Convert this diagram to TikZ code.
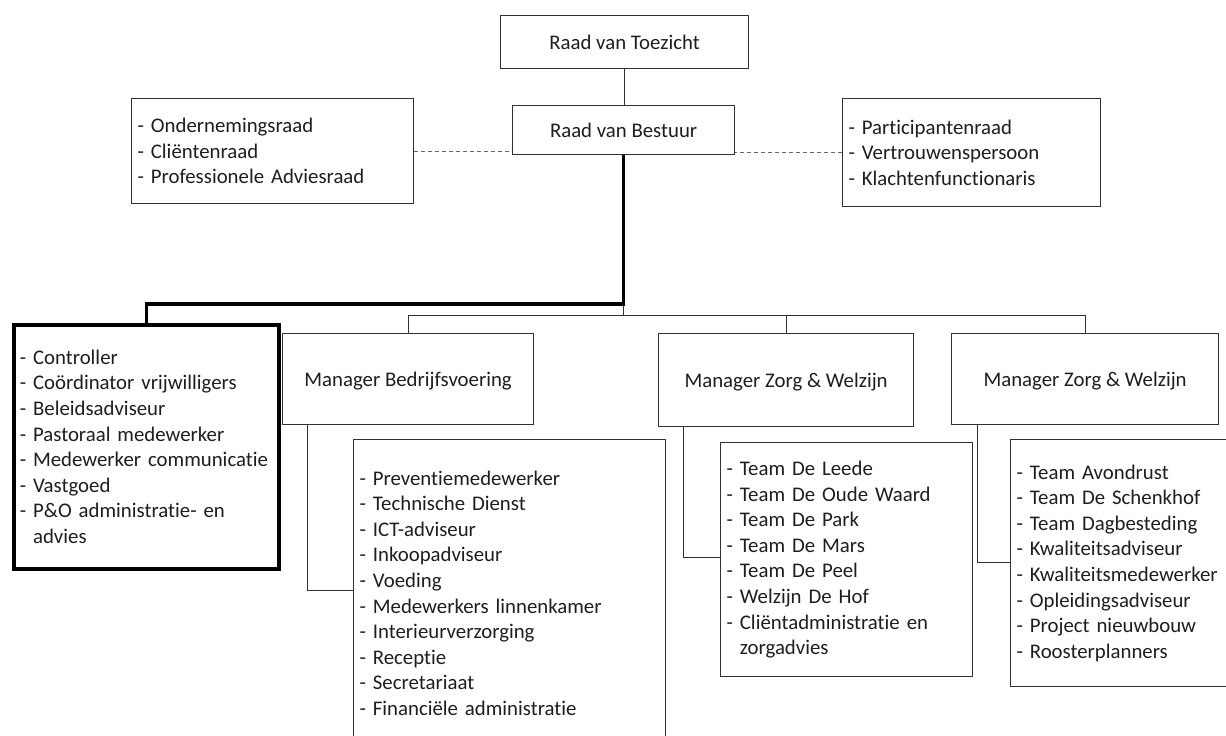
\documentclass[tikz,border=0pt]{standalone}
\usepackage{fontspec}
\setmainfont{Carlito}[Ligatures=NoCommon]
\newcommand\bodyfont{\fontsize{20.8pt}{25.6pt}\selectfont}
\definecolor{ink}{HTML}{1E1E1E}
\definecolor{edge}{HTML}{333333}
\begin{document}
\begin{tikzpicture}[x=1pt,y=-1pt,
  box/.style={draw=edge, line width=1.2pt, rectangle, inner ysep=0pt, inner xsep=6pt,
    anchor=north west, font=\bodyfont, text=ink},
  listbox/.style={box, align=left},
  mgrbox/.style={box, align=center, text height=17pt, text depth=2pt},
  conn/.style={draw=edge, line width=1pt},
  heavy/.style={draw=black, line width=3.6pt},
  dashline/.style={draw=black!60, line width=1pt, dash pattern=on 4pt off 3pt}]
\path[use as bounding box, clip] (0,0) rectangle (1226,736);
\fill[white] (0,0) rectangle (1226,736);

\node[mgrbox, minimum width=248pt, minimum height=53pt] (toez) at (500,15) {Raad van Toezicht};
\node[mgrbox, minimum width=222pt, minimum height=49pt] (bestuur) at (512,105) {Raad van Bestuur};

\node[listbox, text width=270pt, minimum height=105pt] (ladv) at (131,98)
  {- Ondernemingsraad\\- Cliëntenraad\\- Professionele Adviesraad};
\node[listbox, text width=246pt, minimum height=108pt] (radv) at (842,98)
  {- Participantenraad\\- Vertrouwenspersoon\\- Klachtenfunctionaris};

\node[listbox, line width=3.6pt, draw=black, text width=253pt, minimum height=244pt] (staff) at (12,323)
  {- Controller\\- Coördinator vrijwilligers\\- Beleidsadviseur\\- Pastoraal medewerker\\- Medewerker communicatie\\- Vastgoed\\- P\&O administratie- en\\\phantom{- }advies};

\node[mgrbox, minimum width=251pt, minimum height=91pt] (mgr1) at (282,333) {Manager Bedrijfsvoering};
\node[mgrbox, minimum width=255pt, minimum height=93pt] (mgr2) at (658,333) {Manager Zorg \& Welzijn};
\node[mgrbox, minimum width=267pt, minimum height=91pt] (mgr3) at (951,333) {Manager Zorg \& Welzijn};

\node[listbox, text width=300pt, minimum height=307pt] (sub1) at (353,439)
  {- Preventiemedewerker\\- Technische Dienst\\- ICT-adviseur\\- Inkoopadviseur\\- Voeding\\- Medewerkers linnenkamer\\- Interieurverzorging\\- Receptie\\- Secretariaat\\- Financiële administratie};
\node[listbox, text width=240pt, minimum height=234pt] (sub2) at (720,442)
  {- Team De Leede\\- Team De Oude Waard\\- Team De Park\\- Team De Mars\\- Team De Peel\\- Welzijn De Hof\\- Cliëntadministratie en\\\phantom{- }zorgadvies};
\node[listbox, text width=208pt, minimum height=247pt] (sub3) at (1010,439)
  {- Team Avondrust\\- Team De Schenkhof\\- Team Dagbesteding\\- Kwaliteitsadviseur\\- Kwaliteitsmedewerker\\- Opleidingsadviseur\\- Project nieuwbouw\\- Roosterplanners};

% connectors
\draw[conn] (toez.south) -- (toez.south |- bestuur.north);
\draw[dashline] (ladv.east) -- (ladv.east -| bestuur.west);
\draw[dashline] (radv.west) -- (radv.west -| bestuur.east);

\path (bestuur.south) ++(0,160) coordinate (bus);
\draw[conn] (bestuur.south) -- (bus);
\draw[conn] (mgr1.north) |- (bus) -| (mgr3.north);
\draw[conn] (mgr2.north) -- (mgr2.north |- bus);
\draw[heavy] (bestuur.south) -- ++(0,149) -| (staff.north);

\draw[conn] ([xshift=25pt]mgr1.south west) |- ([yshift=-151pt]sub1.north west);
\draw[conn] ([xshift=25pt]mgr2.south west) |- ([yshift=-115pt]sub2.north west);
\draw[conn] ([xshift=26pt]mgr3.south west) |- ([yshift=-123pt]sub3.north west);
\end{tikzpicture}
\end{document}
